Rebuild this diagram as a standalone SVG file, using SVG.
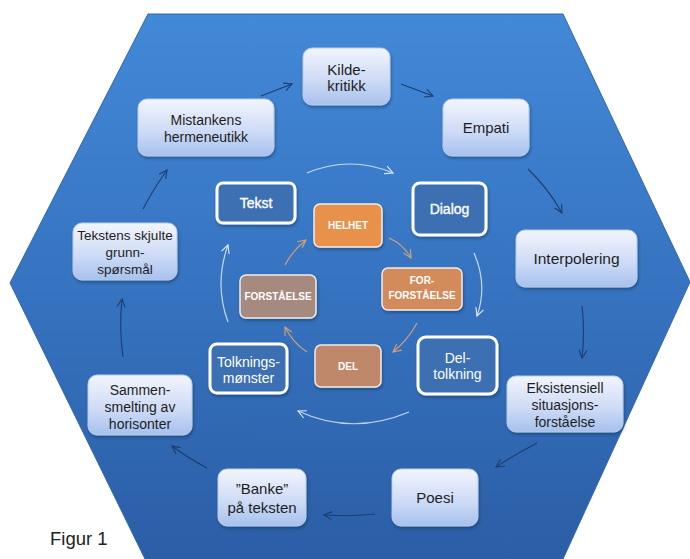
<svg xmlns="http://www.w3.org/2000/svg" width="690" height="559" viewBox="0 0 690 559">
<defs>
<linearGradient id="hexg" x1="0" y1="0" x2="0" y2="1">
<stop offset="0" stop-color="#4289d8"/>
<stop offset="0.5" stop-color="#3673c0"/>
<stop offset="1" stop-color="#2b5ea6"/>
</linearGradient>
<linearGradient id="lightg" x1="0" y1="0" x2="0" y2="1">
<stop offset="0" stop-color="#f2f5fd"/>
<stop offset="0.55" stop-color="#cfdcf6"/>
<stop offset="1" stop-color="#a6c1ee"/>
</linearGradient>
<filter id="sh" x="-20%" y="-20%" width="140%" height="150%">
<feDropShadow dx="1" dy="2" stdDeviation="1.6" flood-color="#0a2040" flood-opacity="0.4"/>
</filter>
<marker id="aN" markerUnits="userSpaceOnUse" markerWidth="12" markerHeight="12" refX="9" refY="5" orient="auto">
<path d="M1,1 L9,5 L1,9" fill="none" stroke="#1c3d6e" stroke-width="1.1"/>
</marker>
<marker id="aW" markerUnits="userSpaceOnUse" markerWidth="12" markerHeight="12" refX="9" refY="5" orient="auto">
<path d="M1,1 L9,5 L1,9" fill="none" stroke="#dfe9f8" stroke-width="1.1"/>
</marker>
<marker id="aT" markerUnits="userSpaceOnUse" markerWidth="12" markerHeight="12" refX="9" refY="5" orient="auto">
<path d="M1,1 L9,5 L1,9" fill="none" stroke="#d7a276" stroke-width="1.1"/>
</marker>
</defs>
<style>
.outer rect{fill:url(#lightg);stroke:#b9cbe9;stroke-width:1;filter:url(#sh)}
.outer text{font-family:"Liberation Sans",Arial,sans-serif;fill:#1e1e1e;text-anchor:middle}
.inner rect{fill:#3d70b2;stroke:#ffffff;stroke-width:3;filter:url(#sh)}
.inner text{font-family:"Liberation Sans",Arial,sans-serif;fill:#ffffff;text-anchor:middle;font-size:14px}
.core rect{stroke:#f3ece6;stroke-width:1.5;filter:url(#sh)}
.core text{font-family:"Liberation Sans",Arial,sans-serif;fill:#ffffff;text-anchor:middle;font-size:10px;font-weight:bold}
.cN{fill:none;stroke:#1c3d6e;stroke-width:1.1;marker-end:url(#aN)}
.cW{fill:none;stroke:#dfe9f8;stroke-opacity:0.85;stroke-width:1.2;marker-end:url(#aW)}
.cT{fill:none;stroke:#d7a276;stroke-width:1.1;marker-end:url(#aT)}
.semi{stroke:#ffffff;stroke-width:0.35}
</style>
<rect width="690" height="559" fill="#ffffff"/>
<polygon points="148,14 563,14 690,282 563,559 145,559 10,283" fill="url(#hexg)" stroke="#2f66ad" stroke-width="1"/>

<g id="connectors">
<path class="cN" d="M261,96 L292,84"/>
<path class="cN" d="M401,84 L433,96"/>
<path class="cN" d="M528,169 Q548,188 562,213"/>
<path class="cN" d="M582,306 Q585,332 582,358"/>
<path class="cN" d="M537,443 Q516,454 496,467"/>
<path class="cN" d="M375,514 Q350,517 324,515"/>
<path class="cN" d="M207,468 Q188,458 172,446"/>
<path class="cN" d="M123,357 Q119,328 122,299"/>
<path class="cN" d="M143,209 Q154,188 167,170"/>
<path class="cW" d="M307,173 Q350,155 393,173"/>
<path class="cW" d="M474,253 Q488,285 477,316"/>
<path class="cW" d="M409,412 Q352,436 298,411"/>
<path class="cW" d="M228,322 Q214,284 228,245"/>
<path class="cT" d="M389,238 Q403,244 411,258"/>
<path class="cT" d="M417,323 Q408,340 393,352"/>
<path class="cT" d="M307,352 Q293,343 285,327"/>
<path class="cT" d="M285,265 Q293,250 306,240"/>
</g>

<g id="kildekritikk" class="outer"><rect x="303" y="48" width="87" height="57" rx="9"/><text font-size="15"><tspan x="346.5" y="75">Kilde-</tspan><tspan x="346.5" y="91">kritikk</tspan></text></g>
<g id="empati" class="outer"><rect x="443" y="99" width="86" height="57" rx="9"/><text x="486" y="133" font-size="15">Empati</text></g>
<g id="interpolering" class="outer"><rect x="516" y="230" width="121" height="57" rx="9"/><text x="576.5" y="264" font-size="15.5">Interpolering</text></g>
<g id="eksistensiell" class="outer"><rect x="507" y="376" width="116" height="56" rx="9"/><text font-size="14"><tspan x="565" y="393">Eksistensiell</tspan><tspan x="565" y="410">situasjons-</tspan><tspan x="565" y="427">forståelse</tspan></text></g>
<g id="poesi" class="outer"><rect x="392" y="469" width="86" height="57" rx="9"/><text x="435" y="503" font-size="15">Poesi</text></g>
<g id="banke" class="outer"><rect x="218" y="469" width="88" height="57" rx="9"/><text font-size="15"><tspan x="262" y="494">”Banke”</tspan><tspan x="262" y="513">på teksten</tspan></text></g>
<g id="sammensmelting" class="outer"><rect x="88" y="375" width="104" height="60" rx="9"/><text font-size="14"><tspan x="140" y="395">Sammen-</tspan><tspan x="140" y="412">smelting av</tspan><tspan x="140" y="429">horisonter</tspan></text></g>
<g id="tekstens" class="outer"><rect x="73" y="223" width="104" height="57" rx="9"/><text font-size="13.5"><tspan x="125" y="240">Tekstens skjulte</tspan><tspan x="125" y="257">grunn-</tspan><tspan x="125" y="274">spørsmål</tspan></text></g>
<g id="mistankens" class="outer"><rect x="138" y="99" width="136" height="57" rx="9"/><text font-size="14"><tspan x="206" y="125">Mistankens</tspan><tspan x="206" y="142">hermeneutikk</tspan></text></g>

<g id="tekst" class="inner"><rect x="217" y="183" width="78" height="40" rx="6"/><text class="semi" x="256" y="208" font-size="13.5">Tekst</text></g>
<g id="dialog" class="inner"><rect x="413" y="183" width="73" height="52" rx="7"/><text class="semi" x="449.5" y="214" font-size="13.5">Dialog</text></g>
<g id="deltolkning" class="inner"><rect x="418" y="337" width="79" height="57" rx="8"/><text><tspan x="457.5" y="363">Del-</tspan><tspan x="457.5" y="379">tolkning</tspan></text></g>
<g id="tolkningsmonster" class="inner"><rect x="210" y="344" width="77" height="49" rx="7"/><text><tspan x="248.5" y="367">Tolknings-</tspan><tspan x="248.5" y="383">mønster</tspan></text></g>

<g id="helhet" class="core"><rect x="314" y="204" width="68" height="43" rx="6" fill="#e8914b"/><text x="348" y="229">HELHET</text></g>
<g id="forforstaelse" class="core"><rect x="382" y="268" width="80" height="42" rx="6" fill="#d38b5c"/><text><tspan x="422" y="284">FOR-</tspan><tspan x="422" y="299">FORSTÅELSE</tspan></text></g>
<g id="del" class="core"><rect x="315" y="345" width="66" height="42" rx="6" fill="#bf886a"/><text x="348" y="370">DEL</text></g>
<g id="forstaelse" class="core"><rect x="240" y="275" width="76" height="43" rx="6" fill="#a68a80"/><text x="278" y="300">FORSTÅELSE</text></g>

<text x="50" y="545" font-family="'Liberation Sans',Arial,sans-serif" font-size="18.5" fill="#222222">Figur 1</text>
</svg>
